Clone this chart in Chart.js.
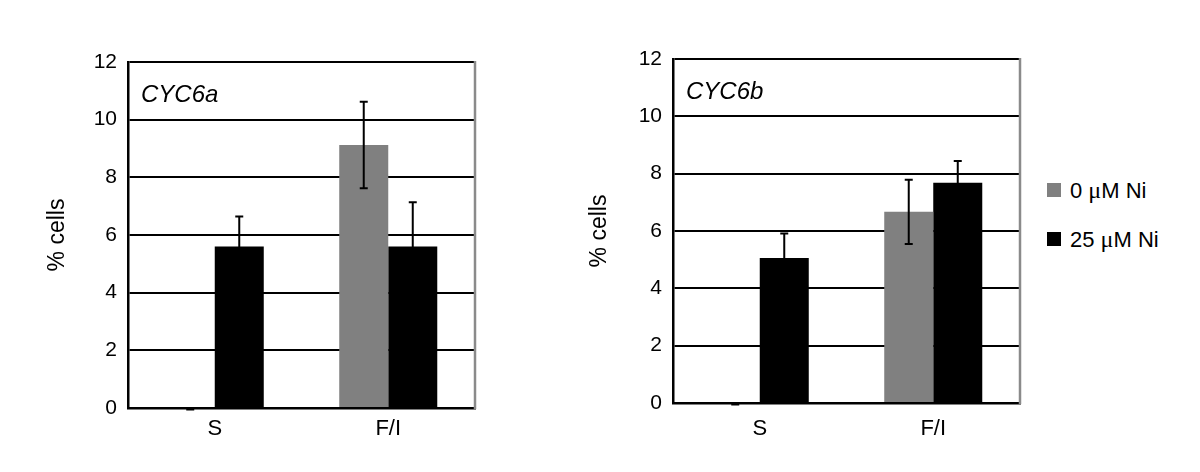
<!DOCTYPE html>
<html>
<head>
<meta charset="utf-8">
<script src="https://cdn.jsdelivr.net/npm/chart.js@4.4.1/dist/chart.umd.min.js"></script>
<style>
  html, body { margin:0; padding:0; background:#fff; }
  body { width:1200px; height:472px; position:relative; overflow:hidden; font-family:"Liberation Sans", Arial, sans-serif; }
  .wrap { position:absolute; top:0; }
  .legend { position:absolute; left:1047px; font-size:22px; color:#000; }
  .legend .item { position:absolute; white-space:nowrap; height:24px; line-height:24px; }
  .legend .sw { position:absolute; left:0; top:5px; width:14px; height:14px; }
  .legend .tx { position:absolute; left:23px; top:0; }
  .mu { font-family:"Liberation Serif", "DejaVu Serif", serif; font-size:24px; }
</style>
</head>
<body>
<div class="wrap" style="left:0;width:490px;height:472px;"><canvas id="c1" width="490" height="472"></canvas></div>
<div class="wrap" style="left:540px;width:490px;height:472px;"><canvas id="c2" width="490" height="472"></canvas></div>
<div class="legend">
  <div class="item" style="top:178px;"><span class="sw" style="background:#808080"></span><span class="tx">0 <span class="mu">μ</span>M Ni</span></div>
  <div class="item" style="top:227px;"><span class="sw" style="background:#000"></span><span class="tx">25 <span class="mu">μ</span>M Ni</span></div>
</div>
<script>
const categories = ["S", "F/I"];
const seriesNames = ["0 μM Ni", "25 μM Ni"];
const yTicks = [0, 2, 4, 6, 8, 10, 12];

// CYC6a
const cyc6a_0Ni = [0, 9.12];
const cyc6a_25Ni = [5.6, 5.6];
const cyc6a_0Ni_err = [0, 1.5];
const cyc6a_25Ni_err = [1.04, 1.54];

// CYC6b
const cyc6b_0Ni = [0, 6.67];
const cyc6b_25Ni = [5.06, 7.68];
const cyc6b_0Ni_err = [0, 1.12];
const cyc6b_25Ni_err = [0.85, 0.76];

const errorBarPlugin = {
  id: 'errorBars',
  afterDatasetsDraw(chart) {
    const ctx = chart.ctx;
    const y = chart.scales.y;
    ctx.save();
    ctx.strokeStyle = '#000';
    ctx.lineWidth = 2;
    chart.data.datasets.forEach((ds, i) => {
      const meta = chart.getDatasetMeta(i);
      meta.data.forEach((bar, j) => {
        const v = ds.data[j], e = ds.errors[j];
        const x = bar.x;
        const yt = y.getPixelForValue(v + e);
        const yb = y.getPixelForValue(Math.max(0, v - e));
        const cap = 4;
        ctx.beginPath();
        if (e > 0) {
          ctx.moveTo(x, yt); ctx.lineTo(x, yb);
          ctx.moveTo(x - cap, yt); ctx.lineTo(x + cap, yt);
          ctx.moveTo(x - cap, yb); ctx.lineTo(x + cap, yb);
        } else {
          ctx.moveTo(x - cap, yt + 1.5); ctx.lineTo(x + cap, yt + 1.5);
        }
        ctx.stroke();
      });
    });
    ctx.restore();
  }
};

const frameLabelPlugin = {
  id: 'frameLabel',
  afterDraw(chart, args, opts) {
    const {ctx, chartArea} = chart;
    ctx.save();
    ctx.strokeStyle = '#8a8a8a';
    ctx.lineWidth = 2.5;
    ctx.beginPath();
    ctx.moveTo(chartArea.right, chartArea.top - 1);
    ctx.lineTo(chartArea.right, chartArea.bottom + 1);
    ctx.stroke();
    ctx.fillStyle = '#000';
    ctx.font = 'italic 24px "Liberation Sans", Arial, sans-serif';
    ctx.textAlign = 'left';
    ctx.textBaseline = 'alphabetic';
    ctx.fillText(opts.text, chartArea.left + 13, chartArea.top + 40);
    ctx.restore();
  }
};

function makeChart(id, d0, d1, e0, e1, label, geom) {
  return new Chart(document.getElementById(id), {
    type: 'bar',
    data: {
      labels: categories,
      datasets: [
        { label: seriesNames[0], data: d0, errors: e0, backgroundColor: '#808080', borderWidth: 0 },
        { label: seriesNames[1], data: d1, errors: e1, backgroundColor: '#000000', borderWidth: 0 }
      ]
    },
    options: {
      responsive: false,
      animation: false,
      devicePixelRatio: 1,
      barPercentage: 1.0,
      categoryPercentage: 0.565,
      layout: { padding: { top: geom.top, right: geom.right, left: 0, bottom: 0 } },
      plugins: {
        legend: { display: false },
        tooltip: { enabled: false },
        frameLabel: { text: label }
      },
      scales: {
        x: {
          grid: { display: false, drawTicks: false },
          border: { display: true, color: '#000', width: 2.5 },
          ticks: { color: '#000', padding: geom.xpad, font: { family: '"Liberation Sans", Arial, sans-serif', size: 22 } },
          afterFit(s) { s.height = geom.xh; }
        },
        y: {
          min: 0, max: 12,
          afterBuildTicks(s) { s.ticks = yTicks.map(v => ({ value: v })); },
          grid: { color: '#000', lineWidth: 2, drawTicks: false },
          border: { display: true, color: '#000', width: 2.5 },
          ticks: { color: '#000', padding: 11, font: { family: '"Liberation Sans", Arial, sans-serif', size: 21 } },
          title: { display: true, text: '% cells', color: '#000', padding: { top: geom.tpad, bottom: 0 }, font: { family: '"Liberation Sans", Arial, sans-serif', size: 23 } },
          afterFit(s) { s.width = geom.yw; }
        }
      }
    },
    plugins: [errorBarPlugin, frameLabelPlugin]
  });
}

makeChart('c1', cyc6a_0Ni, cyc6a_25Ni, cyc6a_0Ni_err, cyc6a_25Ni_err, 'CYC6a',
  { top: 62, right: 15, xh: 64, yw: 128, xpad: 8, tpad: 44 });
makeChart('c2', cyc6b_0Ni, cyc6b_25Ni, cyc6b_0Ni_err, cyc6b_25Ni_err, 'CYC6b',
  { top: 59, right: 10, xh: 69, yw: 133, xpad: 13, tpad: 46 });
</script>
</body>
</html>
